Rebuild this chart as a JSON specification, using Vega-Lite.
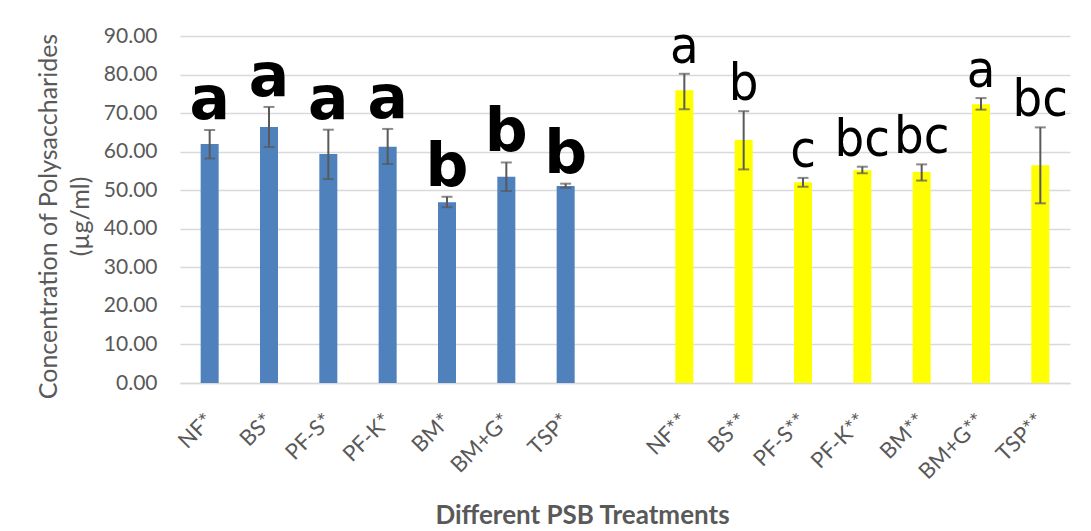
{
  "$schema": "https://vega.github.io/schema/vega-lite/v6.json",
  "autosize": {"type": "none"},
  "padding": {"left": 180, "top": 36, "right": 21, "bottom": 148},
  "width": 890,
  "height": 347,
  "background": "white",
  "config": {
    "view": {"stroke": null},
    "axisY": {
      "labelOverlap": false,
      "format": ".2f",
      "titleFont": "Lato",
      "titleFontSize": 25,
      "titleFontWeight": "normal",
      "titleColor": "#595959",
      "titleLineHeight": 32,
      "titleAngle": -90,
      "titleX": -132,
      "titleY": 180,
      "titleAlign": "center",
      "titleBaseline": "middle",
      "labelFont": "Lato",
      "labelFontSize": 21,
      "labelColor": "#595959",
      "labelPadding": 23,
      "ticks": false,
      "domain": false,
      "gridColor": "#d9d9d9",
      "gridWidth": 1.5
    }
  },
  "data": {
    "values": [
      {"treatment": "NF*", "set": "first", "value": 62.0, "lo": 58.2, "hi": 65.6, "letter": "a"},
      {"treatment": "BS*", "set": "first", "value": 66.4, "lo": 61.2, "hi": 71.6, "letter": "a"},
      {"treatment": "PF-S*", "set": "first", "value": 59.4, "lo": 52.9, "hi": 65.7, "letter": "a"},
      {"treatment": "PF-K*", "set": "first", "value": 61.3, "lo": 56.8, "hi": 65.9, "letter": "a"},
      {"treatment": "BM*", "set": "first", "value": 46.9, "lo": 45.6, "hi": 48.3, "letter": "b"},
      {"treatment": "BM+G*", "set": "first", "value": 53.5, "lo": 49.8, "hi": 57.2, "letter": "b"},
      {"treatment": "TSP*", "set": "first", "value": 51.1, "lo": 50.6, "hi": 51.7, "letter": "b"},
      {"treatment": "NF**", "set": "second", "value": 75.9, "lo": 71.0, "hi": 80.2, "letter": "a"},
      {"treatment": "BS**", "set": "second", "value": 63.0, "lo": 55.4, "hi": 70.5, "letter": "b"},
      {"treatment": "PF-S**", "set": "second", "value": 52.1, "lo": 50.9, "hi": 53.2, "letter": "c"},
      {"treatment": "PF-K**", "set": "second", "value": 55.2, "lo": 54.4, "hi": 56.1, "letter": "bc"},
      {"treatment": "BM**", "set": "second", "value": 54.7, "lo": 52.5, "hi": 56.7, "letter": "bc"},
      {"treatment": "BM+G**", "set": "second", "value": 72.3, "lo": 70.9, "hi": 73.9, "letter": "a"},
      {"treatment": "TSP**", "set": "second", "value": 56.5, "lo": 46.6, "hi": 66.3, "letter": "bc"}
    ]
  },
  "encoding": {
    "x": {
      "field": "treatment",
      "type": "nominal",
      "sort": null,
      "scale": {
        "domain": ["NF*", "BS*", "PF-S*", "PF-K*", "BM*", "BM+G*", "TSP*", " ", "NF**", "BS**", "PF-S**", "PF-K**", "BM**", "BM+G**", "TSP**"],
        "paddingInner": 0,
        "paddingOuter": 0
      },
      "axis": {
        "title": "Different PSB Treatments",
        "titleFont": "Lato",
        "titleFontSize": 26,
        "titleFontWeight": "bold",
        "titleColor": "#595959",
        "titleX": 402,
        "titleY": 140,
        "titleAnchor": null,
        "titleAlign": "center",
        "titleBaseline": "alphabetic",
        "labelFont": "Lato",
        "labelFontSize": 22,
        "labelColor": "#595959",
        "labelAngle": -45,
        "labelAlign": "right",
        "labelBaseline": "middle",
        "labelPadding": 34,
        "labelOverlap": false,
        "ticks": false,
        "domainColor": "#d9d9d9",
        "domainWidth": 1.5,
        "grid": false
      }
    }
  },
  "layer": [
    {
      "mark": {"type": "bar", "width": 18},
      "encoding": {
        "y": {
          "field": "value",
          "type": "quantitative",
          "scale": {"domain": [0, 90], "nice": false},
          "axis": {"values": [0, 10, 20, 30, 40, 50, 60, 70, 80, 90], "title": ["Concentration of Polysaccharides", "(µg/ml)"]}
        },
        "color": {
          "field": "set",
          "type": "nominal",
          "scale": {"domain": ["first", "second"], "range": ["#4F81BD", "#FFFF00"]},
          "legend": null
        }
      }
    },
    {
      "mark": {"type": "rule", "color": "#595959", "strokeWidth": 2},
      "encoding": {
        "y": {"field": "lo", "type": "quantitative", "axis": {"values": [0, 10, 20, 30, 40, 50, 60, 70, 80, 90], "title": ["Concentration of Polysaccharides", "(µg/ml)"]}},
        "y2": {"field": "hi"}
      }
    },
    {
      "mark": {"type": "tick", "color": "#595959", "size": 11, "thickness": 2, "orient": "horizontal"},
      "encoding": {"y": {"field": "lo", "type": "quantitative", "axis": {"values": [0, 10, 20, 30, 40, 50, 60, 70, 80, 90], "title": ["Concentration of Polysaccharides", "(µg/ml)"]}}}
    },
    {
      "mark": {"type": "tick", "color": "#595959", "size": 11, "thickness": 2, "orient": "horizontal"},
      "encoding": {"y": {"field": "hi", "type": "quantitative", "axis": {"values": [0, 10, 20, 30, 40, 50, 60, 70, 80, 90], "title": ["Concentration of Polysaccharides", "(µg/ml)"]}}}
    },
    {
      "transform": [{"filter": "datum.set === 'first'"}],
      "mark": {"type": "text", "font": "DejaVu Sans", "fontSize": 60, "fontWeight": "bold", "color": "black", "baseline": "alphabetic", "align": "center", "dy": -11},
      "encoding": {
        "y": {"field": "hi", "type": "quantitative", "axis": {"values": [0, 10, 20, 30, 40, 50, 60, 70, 80, 90], "title": ["Concentration of Polysaccharides", "(µg/ml)"]}},
        "text": {"field": "letter"}
      }
    },
    {
      "transform": [{"filter": "datum.set === 'second'"}],
      "mark": {"type": "text", "font": "DejaVu Sans Condensed, DejaVu Sans", "fontSize": 52, "fontWeight": "normal", "color": "black", "baseline": "alphabetic", "align": "center", "dy": -11},
      "encoding": {
        "y": {"field": "hi", "type": "quantitative", "axis": {"values": [0, 10, 20, 30, 40, 50, 60, 70, 80, 90], "title": ["Concentration of Polysaccharides", "(µg/ml)"]}},
        "text": {"field": "letter"}
      }
    }
  ]
}
